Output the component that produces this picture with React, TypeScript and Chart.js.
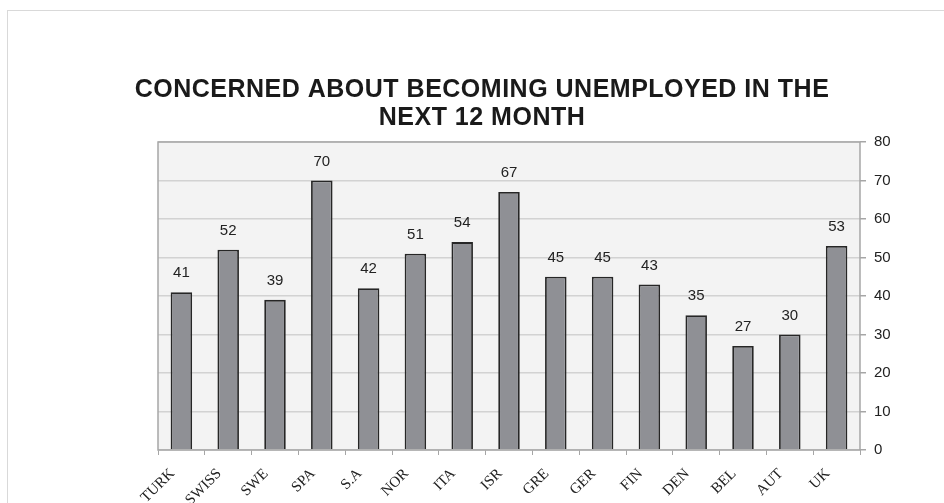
import React, { useEffect, useRef } from "react";
import { Chart, registerables } from "chart.js";

Chart.register(...registerables);

const categories = ["TURK", "SWISS", "SWE", "SPA", "S.A", "NOR", "ITA", "ISR", "GRE", "GER", "FIN", "DEN", "BEL", "AUT", "UK"];
const values = [41, 52, 39, 70, 42, 51, 54, 67, 45, 45, 43, 35, 27, 30, 53];
const titleLines = ["CONCERNED ABOUT BECOMING UNEMPLOYED IN THE", "NEXT 12 MONTH"];

const plotBg = {
  id: "plotBg",
  beforeDraw(chart: any) {
    const { ctx, chartArea: a } = chart;
    ctx.save();
    ctx.fillStyle = "#f3f3f3";
    ctx.fillRect(a.left, a.top, a.right - a.left, a.bottom - a.top);
    ctx.restore();
  },
  afterDatasetsDraw(chart: any) {
    const { ctx, chartArea: a } = chart;
    ctx.save();
    ctx.strokeStyle = "#a6a6a6";
    ctx.lineWidth = 1.5;
    ctx.strokeRect(a.left, a.top, a.right - a.left, a.bottom - a.top);
    const meta = chart.getDatasetMeta(0);
    ctx.fillStyle = "#222";
    ctx.font = "15px 'Liberation Sans', Arial, sans-serif";
    ctx.textAlign = "center";
    ctx.textBaseline = "middle";
    meta.data.forEach((el: any, i: number) => {
      ctx.fillText(String(values[i]), el.x, el.y - 19);
    });
    // title
    ctx.fillStyle = "#1a1a1a";
    ctx.font = "bold 25px 'Liberation Sans', Arial, sans-serif";
    (ctx as any).letterSpacing = "0.5px";
    titleLines.forEach((t, i) => {
      ctx.fillText(t, 482, 90 + i * 28);
    });
    ctx.restore();
  },
};

export default function App() {
  const ref = useRef<HTMLCanvasElement>(null);
  useEffect(() => {
    const chart = new Chart(ref.current!, {
      type: "bar",
      data: {
        labels: categories,
        datasets: [
          {
            data: values,
            backgroundColor: "#8f9095",
            borderColor: "#262626",
            borderWidth: 1.8,
            barPercentage: 0.46,
            categoryPercentage: 1,
          },
        ],
      },
      options: {
        animation: false,
        responsive: false,
        layout: { padding: { left: 158, right: 0, top: 142, bottom: 0 } },
        plugins: {
          legend: { display: false },
          tooltip: { enabled: false },
          title: { display: false },
        },
        scales: {
          x: {
            grid: { display: true, drawOnChartArea: false, color: "#a6a6a6", tickLength: 5, offset: true },
            border: { display: false },
            ticks: {
              color: "#222",
              font: { family: "'Liberation Serif', 'Times New Roman', serif", size: 15 },
              minRotation: 45,
              maxRotation: 45,
              padding: 10,
              labelOffset: -9,
            },
            afterFit(scale: any) {
              scale.height = 53;
            },
          },
          y: {
            position: "right",
            min: 0,
            max: 80,
            ticks: {
              stepSize: 10,
              color: "#222",
              font: { family: "'Liberation Sans', Arial, sans-serif", size: 15 },
              padding: 8,
            },
            grid: { color: "#d2d2d2", lineWidth: 1.5, tickLength: 6, tickColor: "#a6a6a6" },
            border: { display: false },
            afterFit(scale: any) {
              scale.width = 84;
            },
          },
        },
      },
      plugins: [plotBg],
    });
    return () => chart.destroy();
  }, []);
  return (
    <div style={{ position: "fixed", left: 0, top: 0, width: 944, height: 503, overflow: "hidden", background: "#fff" }}>
      <div style={{ position: "absolute", left: 7, top: 10, width: 960, height: 520, border: "1.5px solid #d9d9d9", boxSizing: "border-box" }} />
      <canvas ref={ref} width={944} height={503} style={{ position: "absolute", left: 0, top: 0 }} />
    </div>
  );
}
